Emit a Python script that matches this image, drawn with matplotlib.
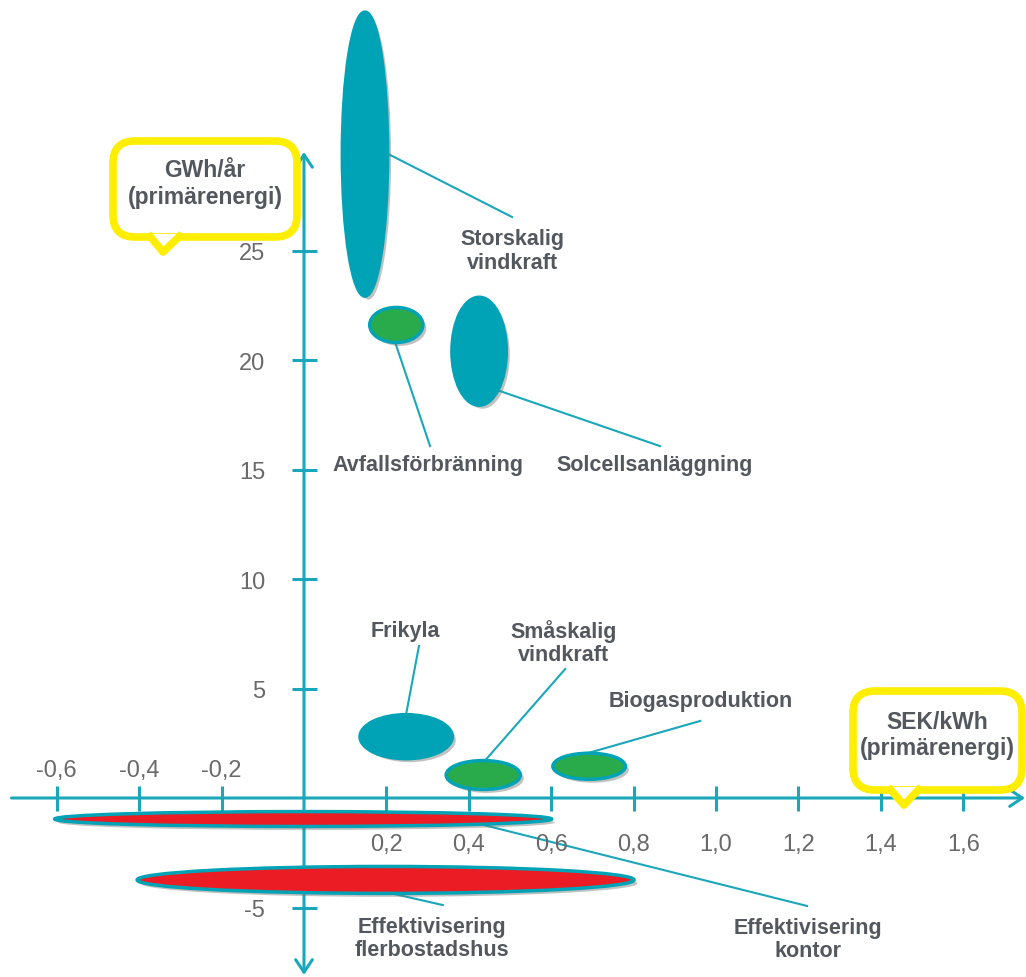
import matplotlib.pyplot as plt
import matplotlib.patheffects as pe
from matplotlib.patches import Ellipse, FancyBboxPatch, Polygon
from matplotlib.transforms import Affine2D

plt.rcParams["font.family"] = ["Liberation Sans", "DejaVu Sans"]

TEAL = "#00a3b5"
AXIS = "#1aa7b9"
GREEN = "#2aab4b"
RED = "#ec1c24"
YELLOW = "#ffee00"
TEXT = "#53575e"
TICK_TEXT = "#6a6a6a"

# Åtgärder: mittpunkt (kostnad, energi) och utbredning
names = ["Storskalig\nvindkraft", "Avfallsförbränning", "Solcellsanläggning",
         "Frikyla", "Småskalig\nvindkraft", "Biogasproduktion",
         "Effektivisering\nkontor", "Effektivisering\nflerbostadshus"]
cost = [0.148, 0.224, 0.425, 0.248, 0.435, 0.692, -0.002, 0.198]
energy = [29.4, 21.6, 20.4, 2.8, 1.05, 1.45, -0.96, -3.74]
cost_span = [0.110, 0.129, 0.132, 0.224, 0.180, 0.176, 1.206, 1.206]
energy_span = [12.97, 1.60, 4.93, 2.01, 1.32, 1.19, 0.68, 1.23]
fills = [TEAL, GREEN, TEAL, TEAL, GREEN, GREEN, RED, RED]

# etikettplacering och ledarlinjer (start vid ellipsen, slut vid texten)
label_x = [0.505, 0.301, 0.852, 0.245, 0.629, 0.962, 1.223, 0.311]
label_y = [25.0, 15.25, 15.25, 7.63, 7.12, 4.43, -6.44, -6.39]
leader_x0 = [0.204, 0.221, 0.476, 0.248, 0.432, 0.689, 0.427, 0.209]
leader_y0 = [29.41, 20.82, 18.58, 3.84, 1.55, 2.05, -1.19, -4.34]
leader_x1 = [0.505, 0.306, 0.864, 0.279, 0.634, 0.962, 1.221, 0.337]
leader_y1 = [26.53, 16.07, 16.07, 6.94, 5.89, 3.52, -4.93, -4.89]

xticks = [-0.6, -0.4, -0.2, 0.2, 0.4, 0.6, 0.8, 1.0, 1.2, 1.4, 1.6]
xtick_labels = ["-0,6", "-0,4", "-0,2", "0,2", "0,4", "0,6", "0,8", "1,0", "1,2", "1,4", "1,6"]
yticks = [-5, 5, 10, 15, 20, 25]
ytick_labels = ["-5", "5", "10", "15", "20", "25"]

W, H = 1026, 978
fig = plt.figure(figsize=(W / 100, H / 100), dpi=100)
ax = fig.add_axes([0, 0, 1, 1])
ax.set_xlim(-304 / 412, 722 / 412)
ax.set_ylim(-179 / 21.9, 799 / 21.9)
ax.set_axis_off()

# pixelkoordinater (från övre vänstra hörnet) för pratbubblorna
px = Affine2D().scale(1, -1).translate(0, H) + Affine2D().scale(0.01) + fig.dpi_scale_trans

# axlar med pilar
ax.annotate("", xy=(1.75, 0), xytext=(-0.71, 0),
            arrowprops=dict(arrowstyle="->,head_length=0.45,head_width=0.3",
                            color=AXIS, lw=2.2, mutation_scale=20, shrinkA=0, shrinkB=0),
            zorder=1)
ax.annotate("", xy=(0, 29.5), xytext=(0, -8.08),
            arrowprops=dict(arrowstyle="<->,head_length=0.45,head_width=0.3",
                            color=AXIS, lw=2.2, mutation_scale=20, shrinkA=0, shrinkB=0),
            zorder=1)
ax.plot(xticks, [0] * len(xticks), ls="none", marker="|", ms=18, mew=2.2, color=AXIS, zorder=1)
ax.plot([0] * len(yticks), yticks, ls="none", marker="_", ms=18, mew=2.2, color=AXIS, zorder=1)

for x, lbl in zip(xticks, xtick_labels):
    off = 20 if x < 0 else -33
    ax.annotate(lbl, (x, 0), xytext=(0, off), textcoords="offset points",
                ha="center", va="center", fontsize=17, color=TICK_TEXT)
for y, lbl in zip(yticks, ytick_labels):
    ax.annotate(lbl, (0, y), xytext=(-28, -2), textcoords="offset points",
                ha="right", va="center", fontsize=17, color=TICK_TEXT)

# ellipser
shadow = [pe.SimplePatchShadow(offset=(2.5, -2.5), shadow_rgbFace="#777777", alpha=0.45), pe.Normal()]
for cx, cy, w, h, fc in zip(cost, energy, cost_span, energy_span, fills):
    e = Ellipse((cx, cy), w, h, facecolor=fc, edgecolor=TEAL, lw=2.5, zorder=3)
    e.set_path_effects(shadow)
    ax.add_patch(e)

# ledarlinjer och etiketter
for x0, y0, x1, y1 in zip(leader_x0, leader_y0, leader_x1, leader_y1):
    ax.plot([x0, x1], [y0, y1], color=AXIS, lw=1.5, zorder=2)
for lx, ly, name in zip(label_x, label_y, names):
    ax.text(lx, ly, name, ha="center", va="center", fontsize=15.5,
            fontweight="bold", color=TEXT, linespacing=1.15, zorder=4)


def callout(x0, y0, x1, y1, tail, text):
    box = FancyBboxPatch((x0, y0), x1 - x0, y1 - y0, boxstyle="round,pad=0,rounding_size=22",
                         transform=px, facecolor="white", edgecolor=YELLOW, lw=5.5, zorder=5)
    ax.add_patch(box)
    (bl, tx, br), ty = tail
    tri = Polygon([(bl, y1 - 3), (tx, ty), (br, y1 - 3)], closed=False, transform=px,
                  facecolor="white", edgecolor=YELLOW, lw=5.5, joinstyle="round", zorder=6)
    ax.add_patch(tri)
    ax.text((x0 + x1) / 2, (y0 + y1) / 2 - 6, text, transform=px, ha="center", va="center",
            fontsize=16.5, fontweight="bold", color=TEXT, linespacing=1.22, zorder=7)


callout(113, 142, 297, 238, ((148, 163, 182), 253), "GWh/år\n(primärenergi)")
callout(853, 692, 1022, 791, ((888, 904, 921), 806), "SEK/kWh\n(primärenergi)")

fig.savefig("out.png", dpi=100)
